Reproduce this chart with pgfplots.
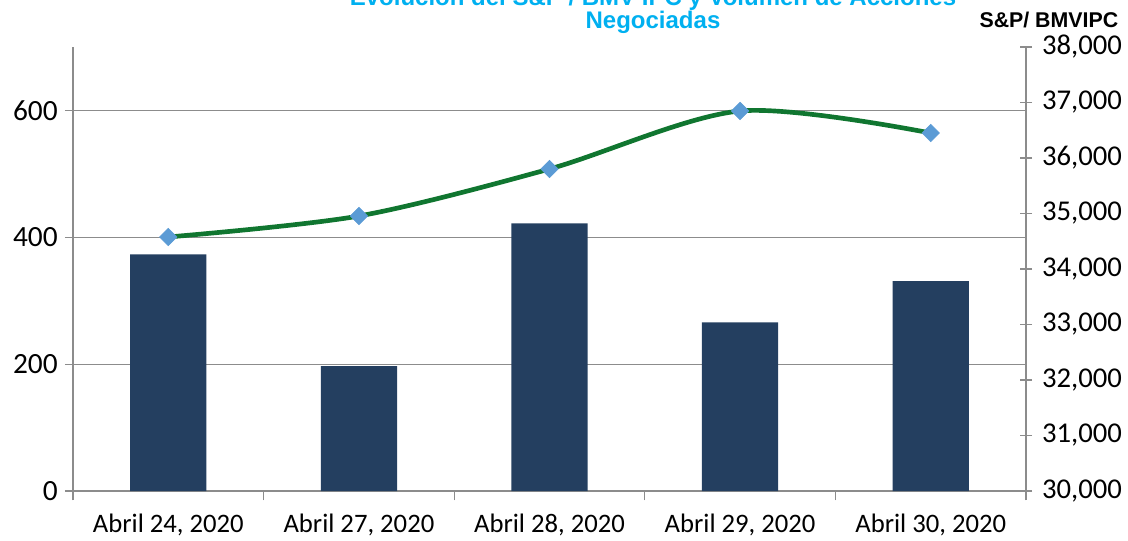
\documentclass[border=0pt]{standalone}
\usepackage{pgfplots}
\pgfplotsset{compat=1.18}
\usepackage{fontspec}
\setmainfont{Carlito}
\newfontfamily\arialfont{Liberation Sans}
\definecolor{barcol}{RGB}{36,63,96}
\definecolor{linecol}{RGB}{16,118,48}
\definecolor{markcol}{RGB}{91,155,213}
\definecolor{titlecol}{RGB}{0,176,240}
\definecolor{axcol}{RGB}{140,140,140}
\begin{document}
\begin{tikzpicture}
\begin{axis}[
  at={(0,0)}, anchor=south west,
  scale only axis, width=714.75pt, height=333pt,
  xmin=-0.5, xmax=4.5, ymin=0, ymax=700,
  axis x line*=bottom, axis y line*=left,
  axis line style={axcol, line width=0.8pt},
  xtick={0,1,2,3,4},
  xticklabels={{Abril 24, 2020}, {Abril 27, 2020}, {Abril 28, 2020}, {Abril 29, 2020}, {Abril 30, 2020}},
  minor xtick={-0.5,0.5,1.5,2.5,3.5,4.5},
  tick align=outside,
  major x tick style={draw=none},
  minor tick length=7pt,
  minor x tick style={axcol, line width=0.8pt},
  ytick={0,200,400,600},
  major tick length=6pt,
  y tick style={axcol, line width=0.8pt},
  ymajorgrids, grid style={axcol, line width=0.8pt},
  /pgf/number format/assume math mode=true,
  tick label style={font=\fontsize{20}{20}\selectfont, black},
  x tick label style={yshift=-8pt},
  y tick label style={xshift=-2pt, font=\fontsize{22}{22}\selectfont},
  clip=false,
]
\addplot[ybar, bar width=0.4, fill=barcol, draw=none] coordinates {
  (0,373) (1,197) (2,422) (3,266) (4,331)
};
\node[anchor=base, font=\arialfont\bfseries\fontsize{18}{18}\selectfont, text=titlecol]
  at (rel axis cs:0.6086,1.094) {Evolución del S\&P / BMV IPC y Volumen de Acciones};
\node[anchor=base, font=\arialfont\bfseries\fontsize{18}{18}\selectfont, text=titlecol]
  at (rel axis cs:0.6086,1.041) {Negociadas};
\node[anchor=base, font=\arialfont\bfseries\fontsize{16}{16}\selectfont, text=black]
  at (rel axis cs:1.024,1.043) {S\&P/ BMVIPC};
\end{axis}
\begin{axis}[
  at={(0,0)}, anchor=south west,
  scale only axis, width=714.75pt, height=333pt,
  xmin=-0.5, xmax=4.5, ymin=30000, ymax=38000,
  axis x line=none, axis y line*=right,
  axis line style={axcol, line width=0.8pt},
  ytick distance=1000,
  scaled y ticks=false,
  tick align=center,
  major tick length=9pt,
  y tick style={axcol, line width=0.8pt},
  /pgf/number format/.cd, 1000 sep={,}, assume math mode=true, /pgfplots/.cd,
  tick label style={font=\fontsize{21.5}{21.5}\selectfont, black},
  y tick label style={xshift=4pt},
  clip=false,
]
\addplot[linecol, line width=3.5pt, smooth, mark=square*, mark size=4.6pt,
  mark options={rotate=45, fill=markcol, draw=markcol, line width=0.5pt}] coordinates {
  (0,34577) (1,34955) (2,35802) (3,36847) (4,36450)
};
\end{axis}
\pgfresetboundingbox
\path (-54.75pt,-36.75pt) rectangle (791.25pt,368.25pt);
\end{tikzpicture}
\end{document}
